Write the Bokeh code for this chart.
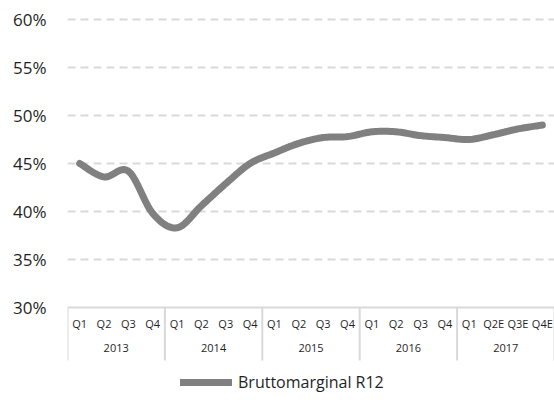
from bokeh.plotting import figure
from bokeh.models import (Range1d, FixedTicker, PrintfTickFormatter, Legend, LegendItem)
from bokeh.core.properties import value
from bokeh.embed import file_html
from bokeh.resources import INLINE

# ---- data ----
years = ["2013", "2014", "2015", "2016", "2017"]
quarters = ["Q1", "Q2", "Q3", "Q4", "Q1", "Q2", "Q3", "Q4", "Q1", "Q2", "Q3", "Q4",
            "Q1", "Q2", "Q3", "Q4", "Q1", "Q2E", "Q3E", "Q4E"]
gross_margin_r12 = [45.0, 43.6, 44.2, 39.8, 38.3, 40.6, 42.9, 45.0, 46.1, 47.1,
                    47.7, 47.8, 48.3, 48.3, 47.9, 47.7, 47.5, 48.0, 48.6, 49.0]
y_ticks = [30, 35, 40, 45, 50, 55, 60]
series_name = "Bruttomarginal R12"

FONT = "Open Sans"
TXT = "#1f1f1f"
GRID = "#d9d9d9"
LINE = "#808080"

n = len(quarters)
xs = [i + 0.5 for i in range(n)]

# smooth curve (Excel-like smoothing) computed from the data
def smooth(px, py, steps=16):
    sx, sy = [], []
    m = len(px)
    for i in range(m - 1):
        p0 = (px[max(i - 1, 0)], py[max(i - 1, 0)])
        p1 = (px[i], py[i])
        p2 = (px[i + 1], py[i + 1])
        p3 = (px[min(i + 2, m - 1)], py[min(i + 2, m - 1)])
        c1 = (p1[0] + (p2[0] - p0[0]) / 6, p1[1] + (p2[1] - p0[1]) / 6)
        c2 = (p2[0] - (p3[0] - p1[0]) / 6, p2[1] - (p3[1] - p1[1]) / 6)
        for k in range(steps + (1 if i == m - 2 else 0)):
            t = k / steps
            a = (1 - t) ** 3
            b = 3 * (1 - t) ** 2 * t
            c = 3 * (1 - t) * t ** 2
            d = t ** 3
            sx.append(a * p1[0] + b * c1[0] + c * c2[0] + d * p2[0])
            sy.append(a * p1[1] + b * c1[1] + c * c2[1] + d * p2[1])
    return sx, sy

cx, cy = smooth(xs, gross_margin_r12)

px_per_unit = 9.6
y_top = 61.04
frame_h = 386
y_bottom = y_top - frame_h / px_per_unit
axis_bottom = 30 - 53 / px_per_unit

p = figure(width=554, height=395, output_backend="svg", toolbar_location=None,
           x_range=Range1d(0, n), y_range=Range1d(y_bottom, y_top),
           min_border_left=67, min_border_right=0, min_border_top=9, min_border_bottom=0)
p.outline_line_color = None
p.background_fill_color = "white"
p.border_fill_color = "white"
p.xaxis.visible = False
p.xgrid.visible = False

ax = p.yaxis[0]
ax.ticker = FixedTicker(ticks=y_ticks)
ax.formatter = PrintfTickFormatter(format="%d%%")
ax.axis_line_color = None
ax.major_tick_line_color = None
ax.minor_tick_line_color = None
ax.major_tick_out = 0
ax.major_label_standoff = 21
ax.major_label_text_font = FONT
ax.major_label_text_font_size = "17px"
ax.major_label_text_color = TXT

p.ygrid.ticker = FixedTicker(ticks=y_ticks[1:])
p.ygrid.grid_line_color = GRID
p.ygrid.grid_line_width = 2
p.ygrid.grid_line_dash = "8 5"

# category axis box
p.segment(x0=[0], y0=[30], x1=[n], y1=[30], line_color=GRID, line_width=2)
bounds = [4 * j for j in range(len(years) + 1)]
p.segment(x0=bounds, y0=[30] * len(bounds), x1=bounds, y1=[axis_bottom] * len(bounds),
          line_color=GRID, line_width=2)

p.text(x=xs, y=[30 - 16 / px_per_unit] * n, text=quarters, text_font=value(FONT),
       text_font_size="11px", text_color=TXT, text_align="center", text_baseline="middle")
p.text(x=[4 * j + 2 for j in range(len(years))], y=[30 - 41 / px_per_unit] * len(years),
       text=years, text_font=value(FONT), text_font_size="11px", text_color=TXT,
       text_align="center", text_baseline="middle")

r = p.line(cx, cy, line_color=LINE, line_width=7, line_cap="round", line_join="round")

legend = Legend(items=[LegendItem(label=series_name, renderers=[r])],
                location=(113, 2), padding=0, margin=0, border_line_color=None,
                background_fill_alpha=0, glyph_width=52, label_standoff=6,
                label_text_font=FONT, label_text_font_size="16px", label_text_color=TXT)
p.add_layout(legend, "center")

open("out.html", "w").write(file_html(p, INLINE))
